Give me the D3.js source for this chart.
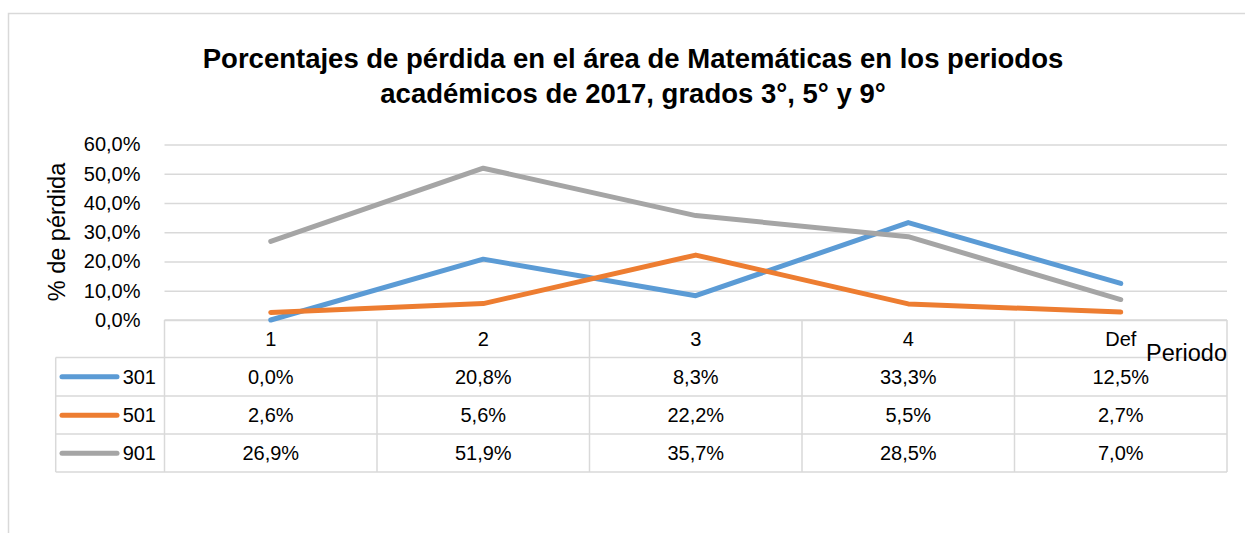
<!DOCTYPE html>
<html>
<head>
<meta charset="utf-8">
<script src="https://cdn.jsdelivr.net/npm/d3@7"></script>
<style>
  html, body { margin: 0; padding: 0; background: #fff; }
  svg { display: block; }
  text { font-family: "Liberation Sans", Arial, sans-serif; fill: #000; }
</style>
</head>
<body>
<svg id="chart" width="1245" height="533"></svg>
<script>
const titleLines = ["Porcentajes de pérdida en el área de Matemáticas en los periodos",
                    "académicos de 2017, grados 3°, 5° y 9°"];
const categories = ["1", "2", "3", "4", "Def"];
const seriesNames = ["301", "501", "901"];
const values301 = [0.000, 0.208, 0.083, 0.333, 0.125];
const values501 = [0.026, 0.056, 0.222, 0.055, 0.027];
const values901 = [0.269, 0.519, 0.357, 0.285, 0.070];
const yTicks = [0, 0.1, 0.2, 0.3, 0.4, 0.5, 0.6];
const seriesColors = ["#5B9BD5", "#ED7D31", "#A5A5A5"];
const yTitle = "% de pérdida";
const xTitle = "Periodo";

(function () {
const series = seriesNames.map((n, i) => ({ name: n, values: [values301, values501, values901][i], color: seriesColors[i] }));

const locale = d3.formatLocale({ decimal: ",", thousands: ".", grouping: [3], currency: ["", "€"] });
const pct = locale.format(".1%");

const svg = d3.select("#chart");
const gridColor = "#D9D9D9";

// outer chart border
svg.append("rect").attr("x", 8.5).attr("y", 13.5).attr("width", 1400).attr("height", 700)
  .attr("fill", "none").attr("stroke", gridColor).attr("stroke-width", 1.5);

// title
svg.append("g").selectAll("text").data(titleLines).join("text")
  .attr("x", 633).attr("y", (d, i) => 68 + i * 35)
  .attr("text-anchor", "middle").attr("font-weight", "bold").attr("font-size", 27.5)
  .text(d => d);

const pLeft = 164.5, pRight = 1227, pTop = 144.5, zero = 320;
const x = d3.scaleBand().domain(categories).range([pLeft, pRight]).padding(0);
const y = d3.scaleLinear().domain([0, 0.6]).range([zero, pTop]);
const cx = d => x(d) + x.bandwidth() / 2;

// y axis with gridlines
const yAxis = svg.append("g").attr("transform", `translate(${pLeft},0)`)
  .call(d3.axisLeft(y).tickValues(yTicks).tickFormat(pct).tickSize(-(pRight - pLeft)).tickPadding(24));
yAxis.select(".domain").remove();
yAxis.selectAll(".tick line").attr("stroke", gridColor).attr("stroke-width", 1.5);
yAxis.selectAll(".tick text").attr("font-size", 20).attr("fill", "#000")
  .style("font-family", '"Liberation Sans", Arial, sans-serif');

// y title
svg.append("text").attr("transform", "translate(65,232) rotate(-90)")
  .attr("text-anchor", "middle").attr("font-size", 23.5).text(yTitle);

// data table
const rowTop = [357.5, 396, 434];
const rowH = 38.3;
const tableLeft = 55.7, tableBottom = 472;
const tg = svg.append("g");
tg.selectAll("line.v").data(categories.map(c => x(c)).concat([pRight])).join("line")
  .attr("x1", d => d).attr("x2", d => d).attr("y1", zero).attr("y2", tableBottom)
  .attr("stroke", gridColor).attr("stroke-width", 1.5);
tg.selectAll("line.h").data(rowTop.concat([tableBottom])).join("line")
  .attr("x1", tableLeft).attr("x2", pRight).attr("y1", d => d).attr("y2", d => d)
  .attr("stroke", gridColor).attr("stroke-width", 1.5);
tg.append("line").attr("x1", tableLeft).attr("x2", tableLeft).attr("y1", rowTop[0]).attr("y2", tableBottom)
  .attr("stroke", gridColor).attr("stroke-width", 1.5);

// category labels
tg.selectAll("text.cat").data(categories).join("text")
  .attr("x", d => cx(d)).attr("y", 346).attr("text-anchor", "middle").attr("font-size", 20).text(d => d);
// x title
svg.append("text").attr("x", 1227).attr("y", 361).attr("text-anchor", "end").attr("font-size", 23.5).text(xTitle);

// rows
series.forEach((s, i) => {
  const cy = rowTop[i] + rowH / 2;
  tg.append("line").attr("x1", 62).attr("x2", 117).attr("y1", cy).attr("y2", cy)
    .attr("stroke", s.color).attr("stroke-width", 5).attr("stroke-linecap", "round");
  tg.append("text").attr("x", 156).attr("y", cy + 7).attr("text-anchor", "end").attr("font-size", 20).text(s.name);
  tg.selectAll(null).data(s.values).join("text")
    .attr("x", (d, j) => cx(categories[j])).attr("y", cy + 7).attr("text-anchor", "middle")
    .attr("font-size", 20).text(d => pct(d));
});

// zero line
svg.append("line").attr("x1", pLeft).attr("x2", pRight).attr("y1", zero).attr("y2", zero)
  .attr("stroke", gridColor).attr("stroke-width", 1.5);

// lines
const line = d3.line().x((d, j) => cx(categories[j])).y(d => y(d));
svg.append("g").selectAll("path").data(series).join("path")
  .attr("d", d => line(d.values)).attr("fill", "none").attr("stroke", d => d.color)
  .attr("stroke-width", 5).attr("stroke-linecap", "round").attr("stroke-linejoin", "round");
})();
</script>
</body>
</html>
